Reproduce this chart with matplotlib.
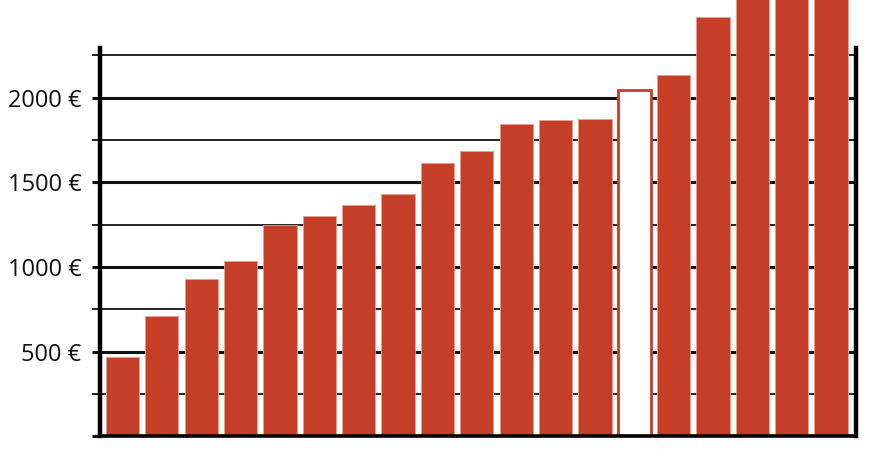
import matplotlib
matplotlib.use('Agg')
import matplotlib.pyplot as plt
from matplotlib.ticker import FixedLocator

# bar values (last three run off the top of the picture)
values = [467, 709, 927, 1037, 1250, 1299, 1364, 1429, 1612, 1687,
          1843, 1868, 1872, 2045, 2132, 2475, 2700, 2850, 3000]
highlight = 13          # the hollow bar
major_ticks = [0, 500, 1000, 1500, 2000]
major_labels = ['', '500 €', '1000 €', '1500 €', '2000 €']
minor_ticks = [250, 750, 1250, 1750, 2250]

red = '#C43E28'

fig = plt.figure(figsize=(8.72, 4.59), dpi=100)
ax = fig.add_axes([99.5 / 872, 1 - 436.3 / 459, (855.5 - 99.5) / 872, 436.3 / 459])

x = list(range(len(values)))
face = ['white' if i == highlight else red for i in x]
edge = [red if i == highlight else '#E8A090' for i in x]
lw = [2.0 if i == highlight else 0.6 for i in x]
ax.bar(x, values, width=0.845, color=face, edgecolor=edge, linewidth=lw, zorder=3)

ax.set_xlim(-0.584, 18.62)
ax.set_ylim(0, 2577)

ax.yaxis.set_major_locator(FixedLocator(major_ticks))
ax.yaxis.set_minor_locator(FixedLocator(minor_ticks))
ax.set_yticklabels(major_labels)
ax.set_xticks([])

ax.grid(axis='y', which='major', color='#111111', linewidth=2.2, zorder=1)
ax.grid(axis='y', which='minor', color='#222222', linewidth=1.4, zorder=1)
ax.set_axisbelow(True)

ax.tick_params(axis='y', which='major', direction='out', length=6, width=2.2,
               color='#111111', pad=7, labelsize=17)
ax.tick_params(axis='y', which='minor', direction='out', length=6, width=1.4,
               color='#222222')
for lab in ax.get_yticklabels():
    lab.set_fontfamily(['Open Sans', 'DejaVu Sans'])
    lab.set_color('#111111')

for side in ['left', 'right']:
    ax.spines[side].set_linewidth(3.2)
    ax.spines[side].set_bounds(0, 2292)
    ax.spines[side].set_zorder(4)
ax.spines['bottom'].set_linewidth(2.6)
ax.spines['bottom'].set_zorder(4)
ax.spines['top'].set_visible(False)

fig.savefig('out.png', dpi=100, facecolor='white')
